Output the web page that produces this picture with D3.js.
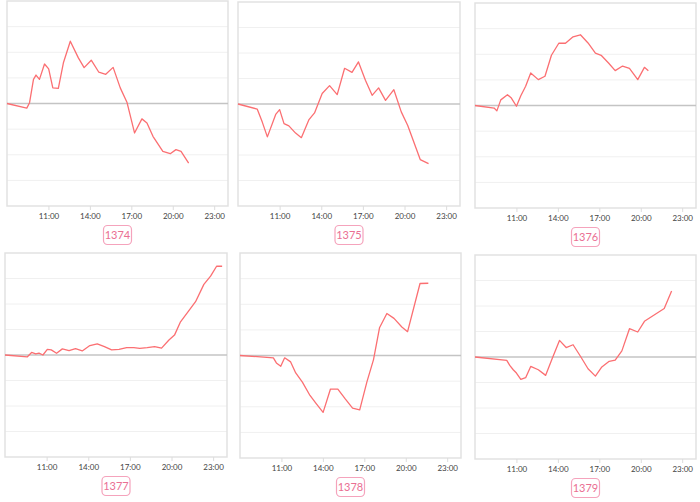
<!DOCTYPE html>
<html>
<head>
<meta charset="utf-8">
<script src="https://cdn.jsdelivr.net/npm/d3@7"></script>
<style>
html,body{margin:0;padding:0;background:#fff;}
svg{display:block;}
</style>
</head>
<body>
<svg id="chart" width="700" height="502"></svg>
<script>
// ---- data ----
const seriesNames = ["1374", "1375", "1376", "1377", "1378", "1379"];
const tickLabels = ["11:00", "14:00", "17:00", "20:00", "23:00"];
const xDomain = ["08:00", "24:00"];
const yDomain = [-4, 4];
const gridValues = [-3, -2, -1, 1, 2, 3];

const times1374 = ["08:00","09:26","09:38","09:55","10:06","10:21","10:43","11:01","11:19","11:43","12:05","12:35","13:10","13:35","14:06","14:39","15:09","15:41","16:12","16:41","17:14","17:46","18:08","18:34","19:17","19:49","20:14","20:36","21:09"];
const values1374 = [0,-0.18,0.03,0.94,1.11,0.94,1.54,1.35,0.61,0.59,1.59,2.43,1.78,1.40,1.69,1.22,1.14,1.41,0.61,0.05,-1.15,-0.60,-0.76,-1.28,-1.87,-1.96,-1.80,-1.87,-2.33];

const times1375 = ["08:00","09:23","09:45","10:07","10:43","11:00","11:19","11:40","12:09","12:34","13:07","13:31","14:04","14:36","15:09","15:41","16:13","16:41","17:11","17:40","18:08","18:38","19:14","19:46","20:14","21:08","21:44"];
const values1375 = [0,-0.20,-0.71,-1.29,-0.41,-0.22,-0.77,-0.86,-1.14,-1.32,-0.61,-0.35,0.41,0.72,0.37,1.40,1.24,1.65,0.93,0.34,0.63,0.14,0.56,-0.31,-0.84,-2.18,-2.34];

const times1376 = ["08:00","09:23","09:35","09:52","10:21","10:38","11:00","11:19","11:40","12:02","12:35","13:04","13:32","14:04","14:33","15:06","15:38","16:11","16:43","17:08","17:40","18:09","18:41","19:11","19:47","20:16","20:33"];
const values1376 = [0,-0.10,-0.21,0.22,0.42,0.29,-0.03,0.38,0.75,1.27,1.01,1.14,1.96,2.43,2.43,2.68,2.76,2.44,2.04,1.96,1.66,1.36,1.54,1.45,1.01,1.49,1.36];

const times1377 = ["08:00","09:37","09:55","10:13","10:27","10:44","11:03","11:20","11:43","12:08","12:37","13:05","13:34","14:07","14:39","15:10","15:41","16:13","16:46","17:17","17:43","18:15","18:47","19:17","19:49","20:13","20:39","21:12","21:44","22:20","22:49","23:15","23:39"];
const values1377 = [0,-0.07,0.10,0.04,0.07,0,0.22,0.20,0.07,0.24,0.17,0.25,0.16,0.37,0.44,0.33,0.20,0.22,0.29,0.29,0.26,0.29,0.33,0.27,0.59,0.78,1.30,1.70,2.09,2.77,3.09,3.48,3.48];

const times1378 = ["08:00","10:25","10:38","10:57","11:14","11:40","12:02","12:31","13:04","13:31","14:01","14:33","15:05","15:38","16:09","16:40","17:11","17:40","18:06","18:38","19:09","19:43","20:08","21:02","21:38"];
const values1378 = [0,-0.09,-0.29,-0.42,-0.09,-0.25,-0.68,-1.04,-1.56,-1.88,-2.22,-1.31,-1.31,-1.70,-2.05,-2.12,-1.04,-0.16,1.08,1.64,1.45,1.11,0.93,2.81,2.82];

const times1379 = ["08:00","10:18","10:31","10:46","11:00","11:19","11:40","12:02","12:35","13:07","13:35","14:07","14:36","15:06","15:38","16:11","16:43","17:11","17:43","18:09","18:38","19:11","19:47","20:16","21:42","22:14"];
const values1379 = [0,-0.13,-0.33,-0.50,-0.63,-0.88,-0.81,-0.37,-0.50,-0.72,-0.07,0.65,0.37,0.48,0.03,-0.46,-0.75,-0.39,-0.17,-0.12,0.24,1.11,0.98,1.40,1.90,2.59];

const seriesTimes = [times1374, times1375, times1376, times1377, times1378, times1379];
const seriesValues = [values1374, values1375, values1376, values1377, values1378, values1379];

// ---- layout (panel frames) ----
const frames = [
  {x0: 7,   y0: 1,   x1: 228, y1: 206},
  {x0: 238, y0: 2,   x1: 460, y1: 206},
  {x0: 475, y0: 3,   x1: 696, y1: 208},
  {x0: 5,   y0: 253, x1: 227, y1: 457},
  {x0: 240, y0: 253, x1: 461, y1: 458},
  {x0: 475, y0: 255, x1: 696, y1: 459}
];

const toHours = s => { const [h, m] = s.split(":").map(Number); return h + m / 60; };

const svg = d3.select("#chart");
const lineColor = "#fb6f72";
const pink = "#f5a3bc";
const pinkText = "#ea6f93";

seriesNames.forEach((name, i) => {
  const f = frames[i];
  const g = svg.append("g");
  const x = d3.scaleLinear().domain(xDomain.map(toHours)).range([f.x0, f.x1]);
  const y = d3.scaleLinear().domain(yDomain).range([f.y1, f.y0]);

  // grid lines
  g.selectAll(".grid").data(gridValues).enter().append("line")
    .attr("x1", f.x0).attr("x2", f.x1)
    .attr("y1", d => y(d)).attr("y2", d => y(d))
    .attr("stroke", "#f0f0f0").attr("stroke-width", 1);

  // frame
  g.append("rect")
    .attr("x", f.x0).attr("y", f.y0)
    .attr("width", f.x1 - f.x0).attr("height", f.y1 - f.y0)
    .attr("fill", "none").attr("stroke", "#e2e2e2").attr("stroke-width", 1.5);

  // zero line
  g.append("line")
    .attr("x1", f.x0).attr("x2", f.x1)
    .attr("y1", y(0)).attr("y2", y(0))
    .attr("stroke", "#c4c4c4").attr("stroke-width", 1.3);

  // x axis
  const axis = d3.axisBottom(x)
    .tickValues(tickLabels.map(toHours))
    .tickFormat((d, k) => tickLabels[k])
    .tickSize(4).tickPadding(3);
  const ax = g.append("g").attr("transform", `translate(0,${f.y1})`).call(axis);
  ax.select(".domain").remove();
  ax.selectAll(".tick line").attr("stroke", "#dcdcdc");
  ax.selectAll(".tick text")
    .attr("fill", "#444").attr("font-size", 8)
    .attr("font-family", "Lato, 'Open Sans', sans-serif");

  // series line
  const pts = seriesTimes[i].map((t, k) => [toHours(t), seriesValues[i][k]]);
  g.append("path")
    .datum(pts)
    .attr("d", d3.line().x(d => x(d[0])).y(d => y(d[1])))
    .attr("fill", "none").attr("stroke", lineColor)
    .attr("stroke-width", 1.3).attr("stroke-linejoin", "round");

  // label box
  const cx = (f.x0 + f.x1) / 2;
  const cy = f.y1 + 29;
  g.append("rect")
    .attr("x", cx - 14).attr("y", cy - 9.5)
    .attr("width", 28).attr("height", 19).attr("rx", 4)
    .attr("fill", "#fff").attr("stroke", pink).attr("stroke-width", 1.2);
  g.append("text")
    .attr("x", cx).attr("y", cy + 4)
    .attr("text-anchor", "middle")
    .attr("font-size", 11)
    .attr("font-family", "Lato, 'Open Sans', sans-serif")
    .attr("fill", pinkText)
    .text(name);
});
</script>
</body>
</html>
